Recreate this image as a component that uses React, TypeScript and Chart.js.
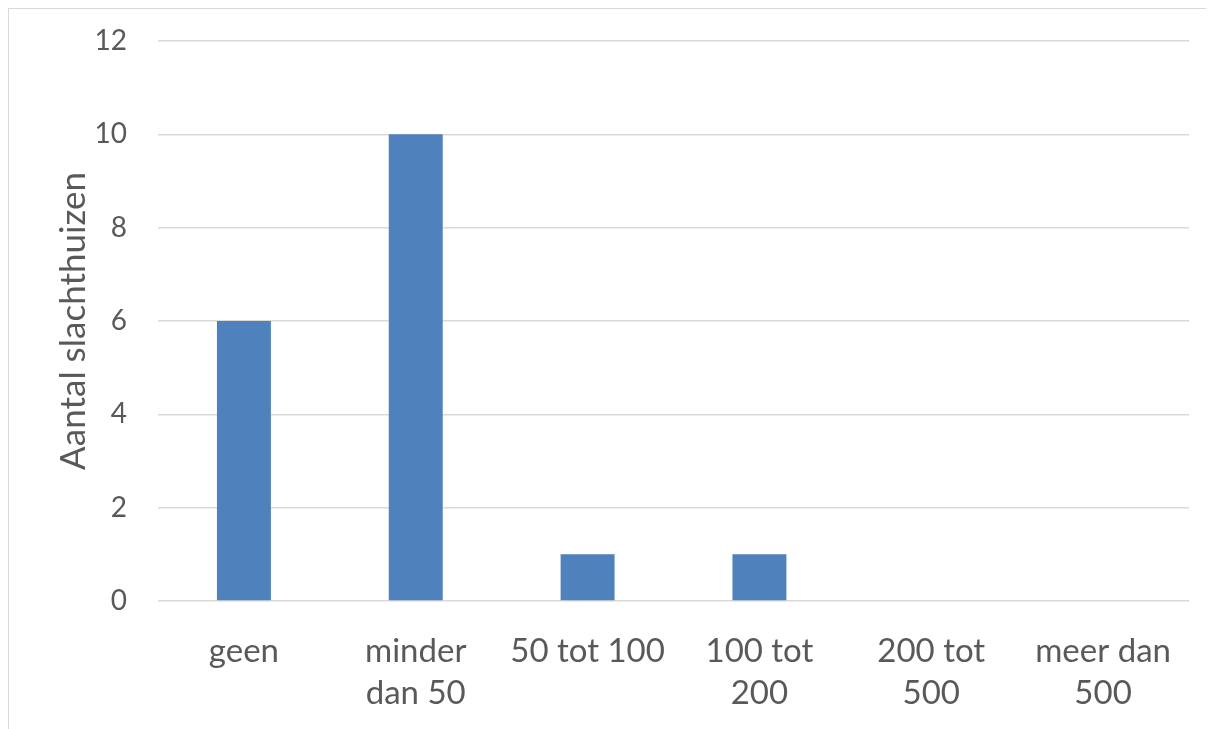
import React, { useEffect, useRef } from "react";
import { Chart, registerables } from "chart.js";

Chart.register(...registerables);

const categories: (string | string[])[] = [
  "geen",
  ["minder", "dan 50"],
  "50 tot 100",
  ["100 tot", "200"],
  ["200 tot", "500"],
  ["meer dan", "500"],
];
const values: number[] = [6, 10, 1, 1, 0, 0];
const yTitle = "Aantal slachthuizen";
const yMin = 0;
const yMax = 12;
const yStep = 2;

const FONT = "Lato, 'Open Sans', sans-serif";
const TEXT = "#595959";

export default function App() {
  const ref = useRef<HTMLCanvasElement | null>(null);

  useEffect(() => {
    document.documentElement.style.overflow = "hidden";
    const canvas = ref.current;
    if (!canvas) return;
    const chart = new Chart(canvas, {
      type: "bar",
      data: {
        labels: categories,
        datasets: [
          {
            data: values,
            backgroundColor: "#4f81bd",
            borderWidth: 0,
            barPercentage: 1,
            categoryPercentage: 0.314,
          },
        ],
      },
      options: {
        responsive: false,
        animation: false,
        devicePixelRatio: 1,
        layout: { padding: { left: 0, right: 25, top: 32, bottom: 0 } },
        plugins: { legend: { display: false }, tooltip: { enabled: false } },
        scales: {
          x: {
            grid: { display: false, drawTicks: false },
            border: { display: false },
            ticks: {
              color: TEXT,
              font: { family: FONT, size: 33, lineHeight: 1.27 },
              padding: 29,
              maxRotation: 0,
              autoSkip: false,
            },
            afterFit: (s: any) => {
              s.height = 128;
              s.paddingLeft = 0;
              s.paddingRight = 0;
            },
          },
          y: {
            min: yMin,
            max: yMax,
            grid: { color: "#d9d9d9", lineWidth: 1.5, drawTicks: false },
            border: { display: false },
            ticks: {
              stepSize: yStep,
              color: TEXT,
              font: { family: FONT, size: 28 },
              padding: 31,
            },
            title: {
              display: true,
              text: yTitle,
              color: TEXT,
              font: { family: FONT, size: 35, lineHeight: 1.2 },
              padding: { top: 44, bottom: 0 },
            },
            afterFit: (s: any) => {
              s.width = 149;
              s.paddingTop = 0;
              s.paddingBottom = 0;
            },
          },
        },
      },
    });
    return () => chart.destroy();
  }, []);

  return (
    <div
      style={{
        width: 1206,
        height: 720,
        borderTop: "1px solid #d9d9d9",
        borderLeft: "1px solid #d9d9d9",
        background: "#fff",
      }}
    >
      <canvas ref={ref} width={1205} height={720} style={{ display: "block" }} />
    </div>
  );
}
